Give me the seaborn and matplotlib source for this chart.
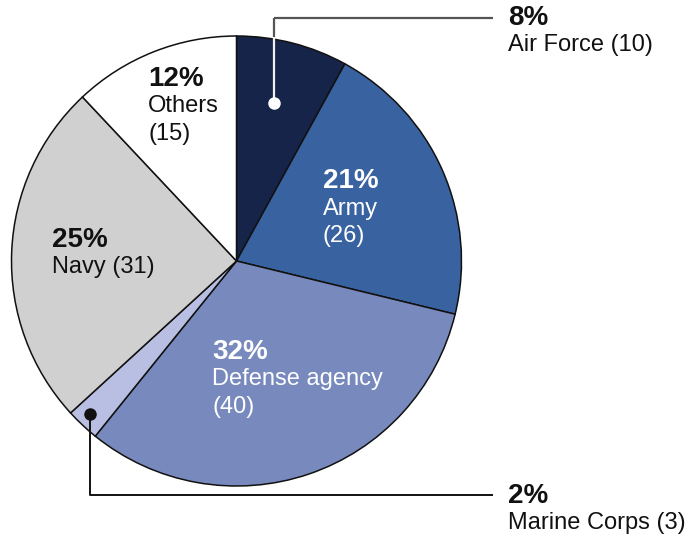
import matplotlib
matplotlib.use("Agg")
import matplotlib.pyplot as plt
import seaborn as sns

categories = ["Air Force", "Army", "Defense agency", "Marine Corps", "Navy", "Others"]
counts = [10, 26, 40, 3, 31, 15]
percents = ["8%", "21%", "32%", "2%", "25%", "12%"]
colors = ["#17244a", "#3962a0", "#7889bd", "#b9bfe2", "#d0d0d0", "#ffffff"]

sns.set_theme(style="white")
plt.rcParams["font.family"] = ["Liberation Sans", "DejaVu Sans"]

W, H = 688, 540
fig = plt.figure(figsize=(W / 100, H / 100), dpi=100)

# pie axes: center (236.5, 261) px from top, radius 225 px
cx, cy, r = 236.5, 261, 225
ax = fig.add_axes([(cx - r) / W, (H - cy - r) / H, 2 * r / W, 2 * r / H])
ax.pie(counts, colors=colors, startangle=90, counterclock=False, radius=1,
       wedgeprops=dict(edgecolor="#111111", linewidth=1.1))
ax.set_xlim(-1, 1)
ax.set_ylim(-1, 1)
ax.set_aspect("equal")
ax.axis("off")

# overlay axes in pixel coordinates for annotations
ov = fig.add_axes([0, 0, 1, 1], facecolor="none")
ov.set_xlim(0, W)
ov.set_ylim(H, 0)
ov.axis("off")

big = 20
small = 17

# leader for Air Force
ov.plot([274, 274], [18, 37], color="#555555", lw=1.6, solid_capstyle="butt")
ov.plot([274, 274], [37, 103], color="#f0f0f0", lw=1.6, solid_capstyle="butt")
ov.plot([274, 493], [18, 18], color="#555555", lw=1.6, solid_capstyle="butt")
ov.plot([274], [103], "o", color="white", markersize=9, markeredgewidth=0)

# leader for Marine Corps
ov.plot([90, 90, 493], [414, 495, 495], color="#111111", lw=1.4, solid_capstyle="butt")
ov.plot([90], [414], "o", color="#111111", markersize=9, markeredgewidth=0)

def label(x, y, pct, lines, color):
    ov.text(x, y, pct, fontsize=big, fontweight="bold", color=color, va="center", ha="left")
    for i, ln in enumerate(lines):
        ov.text(x, y + 27.5 * (i + 1), ln, fontsize=small, color=color, va="center", ha="left")

label(508, 18, percents[0], [f"{categories[0]} ({counts[0]})"], "#111111")
label(323, 181, percents[1], [categories[1], f"({counts[1]})"], "white")
label(212, 352, percents[2], [categories[2], f"({counts[2]})"], "white")
label(508, 496, percents[3], [f"{categories[3]} ({counts[3]})"], "#111111")
label(52, 240, percents[4], [f"{categories[4]} ({counts[4]})"], "#111111")
label(148, 79, percents[5], [categories[5], f"({counts[5]})"], "#111111")

fig.savefig("out.png", dpi=100)
